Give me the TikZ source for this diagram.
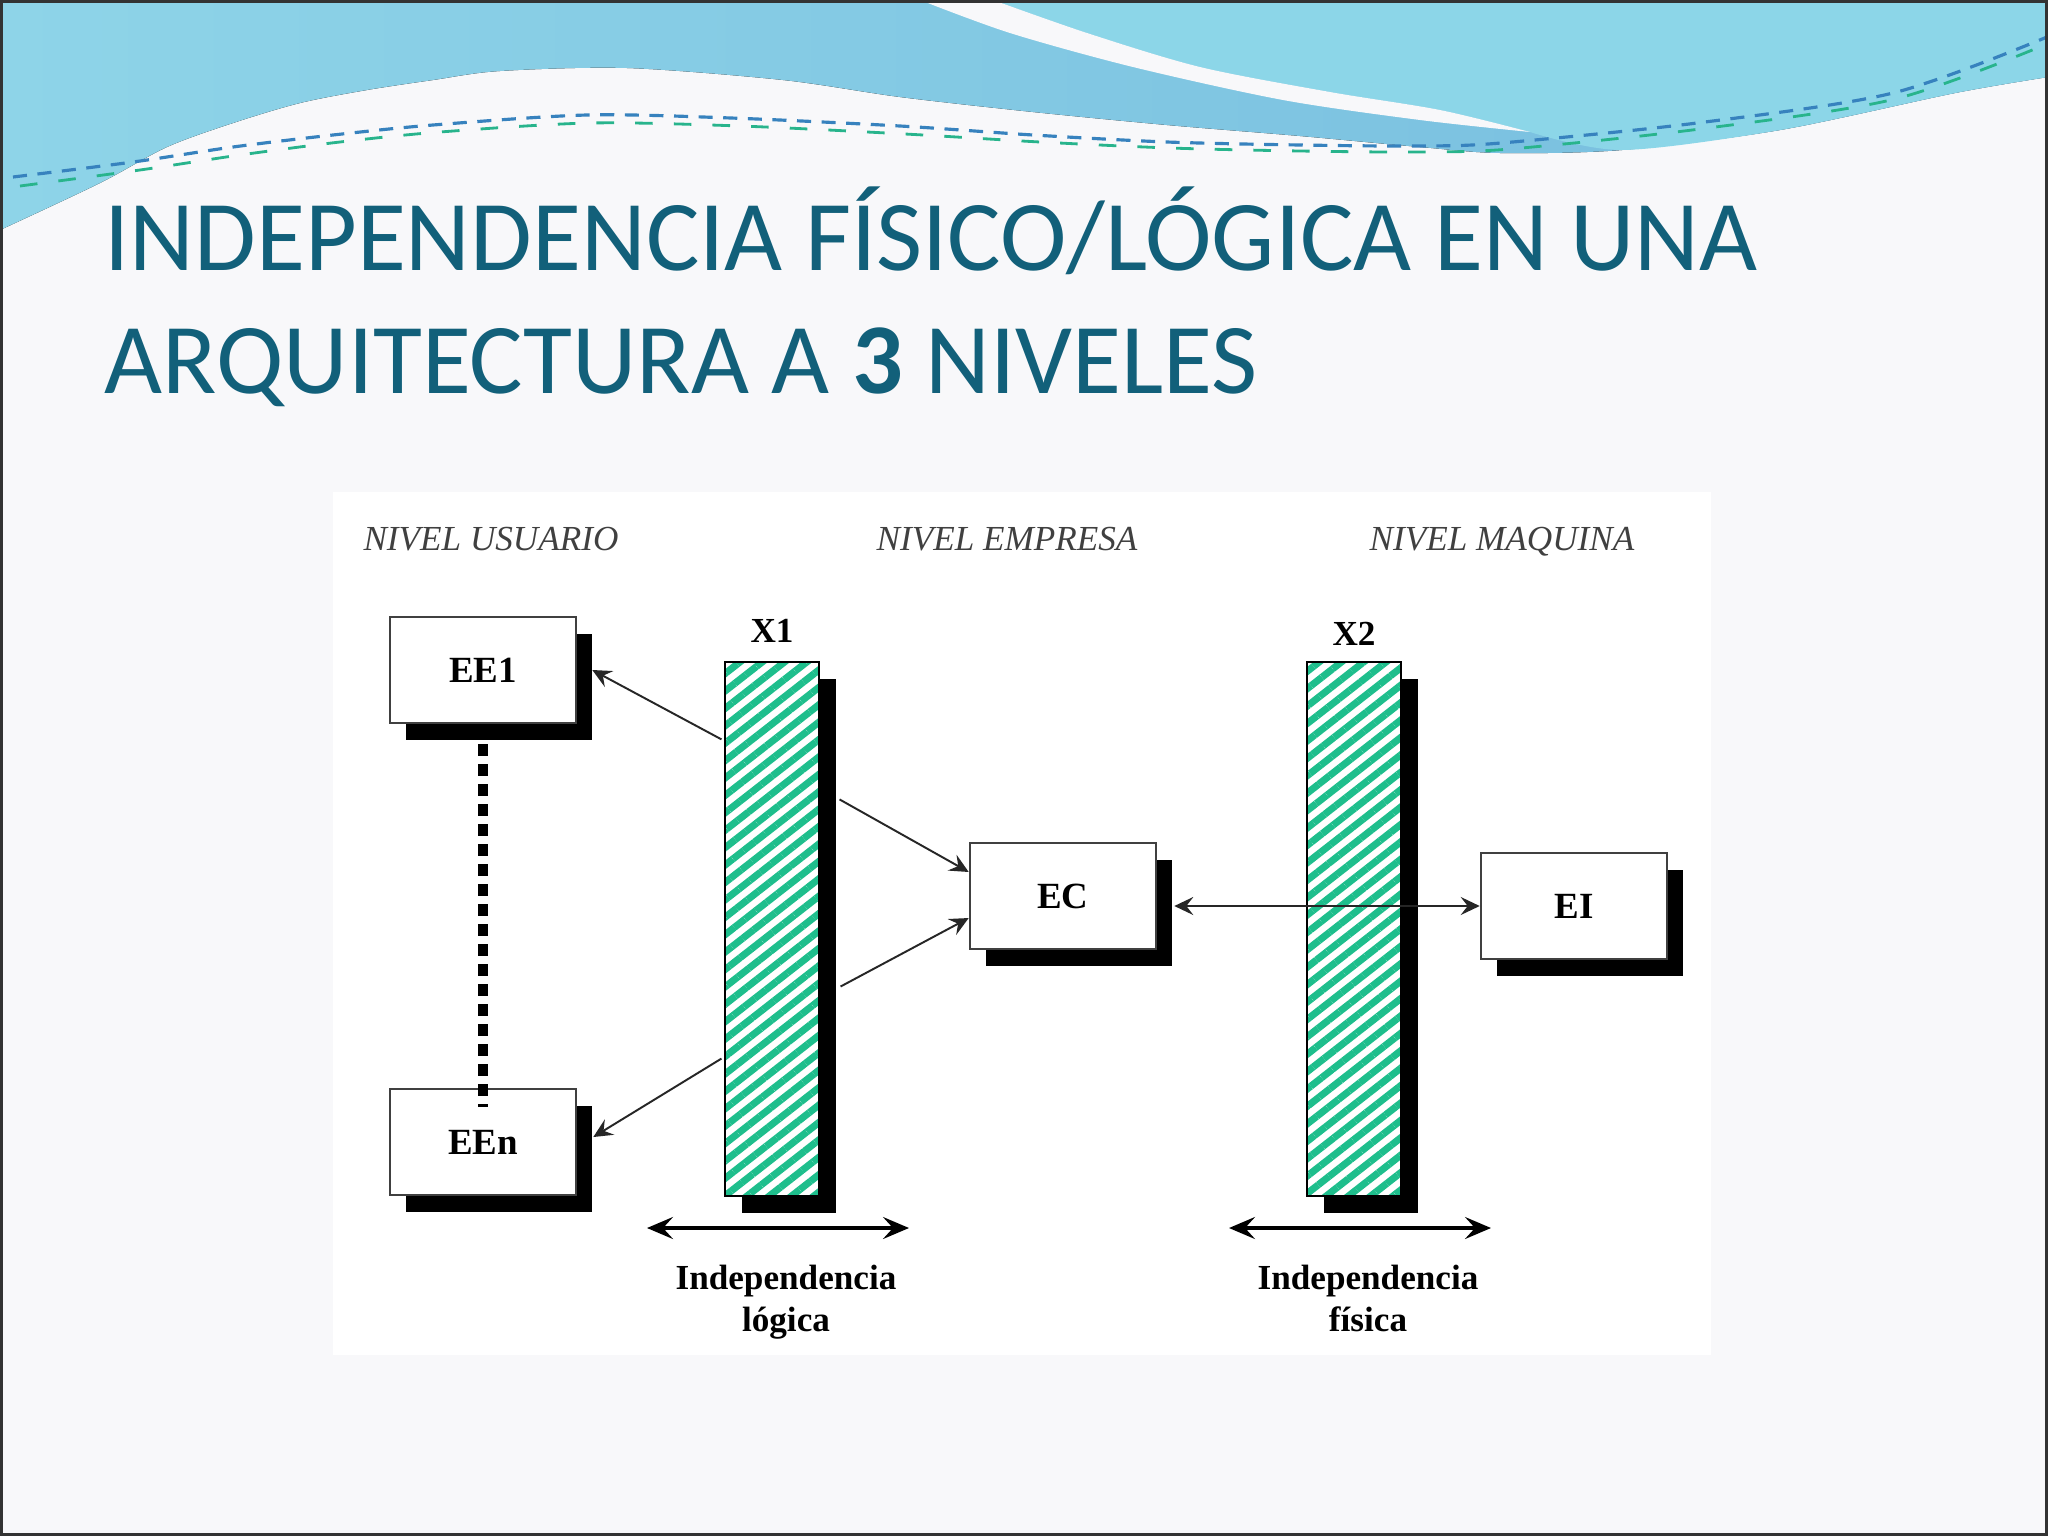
\documentclass[tikz,border=0pt]{standalone}
\usepackage{fontspec}
\newfontfamily\titlefont{Carlito}
\newfontfamily\figfont{Liberation Serif}
\usetikzlibrary{positioning,shadows,patterns.meta,arrows.meta}
\definecolor{titleblue}{RGB}{18,96,122}
\definecolor{waveA}{RGB}{142,212,232}
\definecolor{waveB}{RGB}{118,188,222}
\definecolor{waveR}{RGB}{140,214,232}
\definecolor{dashA}{RGB}{55,130,190}
\definecolor{dashB}{RGB}{40,180,140}
\definecolor{hatch}{RGB}{30,190,140}
\definecolor{slidebg}{RGB}{248,248,250}

\begin{document}
\begin{tikzpicture}[
	x=0.01cm, y=-0.01cm,
	>={Stealth[length=1.9mm,width=1.8mm,inset=.7mm]},
	bx/.style={draw=black!75, line width=.7pt, fill=white,
		minimum width=1.86cm, minimum height=1.06cm, inner sep=0,
		font=\figfont\bfseries\fontsize{10.5}{12}\selectfont,
		drop shadow={shadow xshift=.16cm, shadow yshift=-.17cm, opacity=1, fill=black}},
	br/.style={draw=black, line width=.6pt,
		minimum width=.94cm, minimum height=5.34cm, inner sep=0,
		drop shadow={shadow xshift=.17cm, shadow yshift=-.17cm, opacity=1, fill=black},
		preaction={fill=white},
		pattern={Lines[angle=38,distance=3.9pt,line width=2pt]}, pattern color=hatch},
	lb/.style={font=\figfont\bfseries\fontsize{10}{12}\selectfont, inner sep=0},
	nv/.style={font=\figfont\itshape\fontsize{10}{12}\selectfont, text=black!75, anchor=base, inner sep=0},
	tx/.style={align=center, font=\figfont\bfseries\fontsize{10}{12}\selectfont, inner sep=0, anchor=north},
	ar/.style={->, line width=.55pt, black!85},
	dbl/.style={{Stealth[length=2.6mm,width=2.2mm,inset=1mm]}-{Stealth[length=2.6mm,width=2.2mm,inset=1mm]}, line width=.9pt},
	dt/.style={line width=.1cm, dash pattern=on .12cm off .08cm},
	]
\useasboundingbox (0,0) rectangle (2048,1536);
% slide background
\fill [slidebg] (0,0) rectangle (2048,1536);
\fill [left color=waveA, right color=waveB] (0,0) -- (2048,0) -- (2048,77)
	-- plot [smooth] coordinates {(2048,77) (1955,93) (1780,130) (1622,150) (1500,153) (1420,147) (1300,136) (1167,125) (1033,112) (900,97) (783,80) (627,68) (500,71) (433,80) (367,90) (300,103) (233,123) (167,147) (100,183) (0,230)}
	-- cycle;
\fill [waveR] (993,0) -- (2048,0) -- (2048,77)
	-- plot [smooth] coordinates {(2048,77) (1955,93) (1780,130) (1622,150) (1530,132)}
	-- plot [smooth] coordinates {(1530,132) (1440,110) (1330,92) (1200,67) (1087,33) (993,0)}
	-- cycle;
\fill [slidebg] (920,0) -- (993,0)
	-- plot [smooth] coordinates {(993,0) (1087,33) (1200,67) (1330,92) (1440,110) (1530,132)}
	-- plot [smooth] coordinates {(1530,132) (1420,120) (1283,100) (1133,67) (1010,33) (920,0)}
	-- cycle;
\draw [dashA, line width=.9pt, dash pattern=on 4pt off 3pt]
	plot [smooth] coordinates {(13,177) (133,162) (233,147) (333,135) (433,125) (587,115) (731,118) (900,126) (1033,135) (1167,142) (1300,145) (1420,146) (1501,143) (1697,123) (1893,93) (2047,37)};
\draw [dashB, line width=.8pt, dash pattern=on 5pt off 6pt]
	plot [smooth] coordinates {(20,186) (140,170) (240,155) (340,142) (440,132) (590,123) (740,126) (905,134) (1040,142) (1170,148) (1300,151) (1420,152) (1510,149) (1700,129) (1895,99) (2047,44)};
\draw [black!80, line width=.03cm] (1.5,1.5) rectangle (2046.5,1534.5);

\node [anchor=base west, inner sep=0, font=\titlefont\fontsize{28.5}{34}\selectfont, text=titleblue] (t1) at (104,270) {INDEPENDENCIA FÍSICO/LÓGICA EN UNA};
\node [anchor=base west, inner sep=0, font=\titlefont\fontsize{28.5}{34}\selectfont, text=titleblue] (t2) at (104,393) {ARQUITECTURA A \textbf{3} NIVELES};

% figure
\fill [white] (333,492) rectangle (1711,1355);
\node [nv] (nvU) at (491,550) {NIVEL USUARIO};
\node [nv] (nvE) at (1007,550) {NIVEL EMPRESA};
\node [nv] (nvM) at (1502,550) {NIVEL MAQUINA};

\node [bx] (ee1) at (483,670) {EE1};
\node [bx] (een) at (483,1142) {EEn};
\node [bx] (ec) at (1063,896) {EC};
\node [bx] (ei) at (1574,906) {EI};

\foreach \n/\x/\t in {X1/772/lógica,X2/1354/física} {
	\node [br] (\n) at (\x,929) {};
	\node [lb, above=1.5mm of \n] (\n-lb) {\n};
	\coordinate (\n-l) at (\x-125,1228);
	\coordinate (\n-r) at (\x+137,1228);
	\draw [dbl] (\n-l) -- (\n-r);
	\node [tx] (\n-tx) at (\x+14,1264) {Independencia\\\t};
}

\draw [dt] ([yshift=-.2cm]ee1.south) -- ([yshift=-.19cm]een.north);
\draw [ar] ([yshift=-.81cm]X1.north west) -- ([xshift=.15cm]ee1.east);
\draw [ar] ([xshift=.17cm,yshift=-1.41cm]X1.north east) -- ([yshift=.24cm]ec.west);
\draw [ar] ([xshift=.18cm,yshift=-3.28cm]X1.north east) -- ([yshift=-.22cm]ec.west);
\draw [ar] ([yshift=-4cm]X1.north west) -- ([xshift=.16cm,yshift=.05cm]een.east);
\draw [ar, <->] ([xshift=.17cm,yshift=-.1cm]ec.east) -- (ei.west);
\end{tikzpicture}
\end{document}
